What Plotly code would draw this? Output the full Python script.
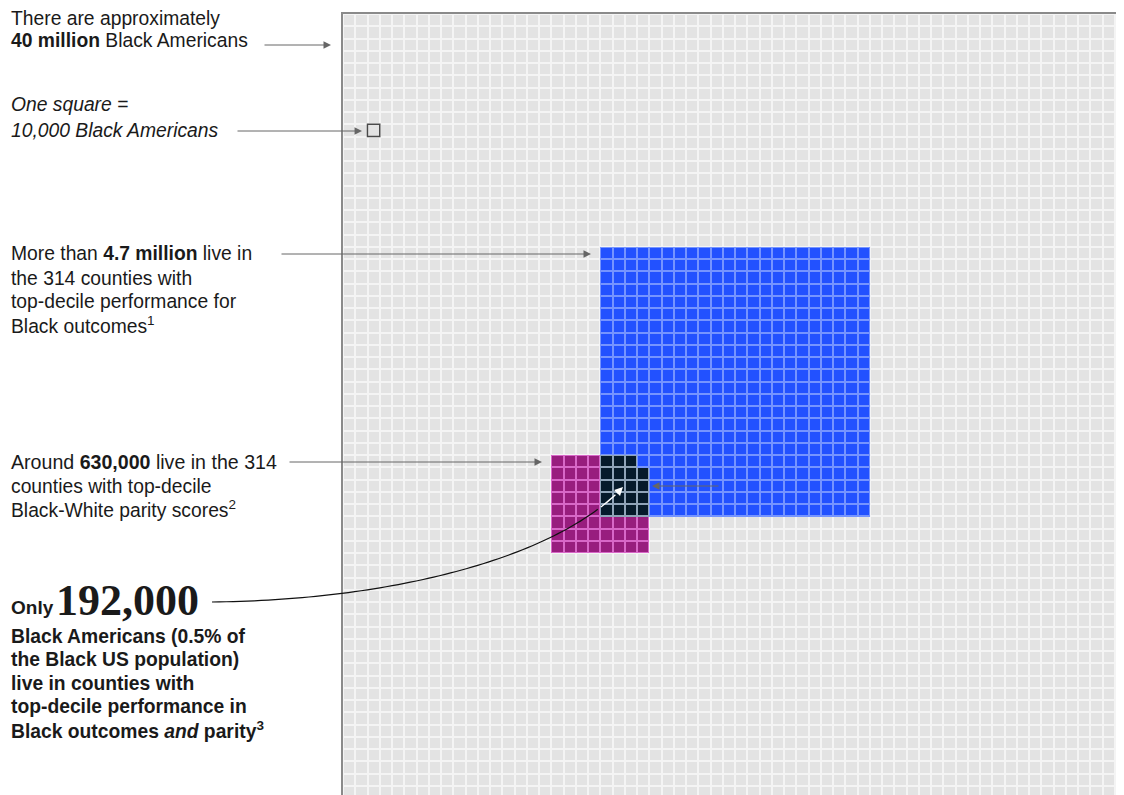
import math
import numpy as np
import plotly.graph_objects as go

# ---------------- data ----------------
TOTAL_POP = 40_000_000          # Black Americans
PER_SQUARE = 10_000             # one square
OUTCOMES_POP = 4_700_000        # top-decile Black outcomes counties
PARITY_POP = 630_000            # top-decile Black-White parity counties
BOTH_POP = 192_000              # both
GRID_COLS = 66
GRID_ROWS = 66
CATEGORIES = ["all", "outcomes", "parity", "both"]

# ---------------- layout constants ----------------
SCREEN_W, SCREEN_H = 1124, 795
PAGE_OFF = 8                     # default body margin of the html page
W, H = SCREEN_W - 2 * PAGE_OFF, SCREEN_H - PAGE_OFF
GRID_LEFT, GRID_TOP = 343, 14    # screen pixels
PITCH = 12.25
BLUE_ORIGIN = (21, 19)      # (col, row) of top-left cell
MAGENTA_ORIGIN = (17, 36)

CELL_COLORS = ["#e3e3e3", "#2251ff", "#981d7e", "#061a2b"]
GAP_COLORS = ["#f4f4f4", "#7594ff", "#d867c8", "#8fa3b8"]
TEXT = "#1a1a1a"
ARROW = "#666666"

n_blue = round(OUTCOMES_POP / PER_SQUARE)
n_mag = round(PARITY_POP / PER_SQUARE)
n_both = round(BOTH_POP / PER_SQUARE)
side_blue = math.ceil(math.sqrt(n_blue))
side_mag = math.ceil(math.sqrt(n_mag))

z = np.zeros((GRID_ROWS, GRID_COLS))
bc, br = BLUE_ORIGIN
mc, mr = MAGENTA_ORIGIN
z[mr:mr + side_mag, mc:mc + side_mag] = 2
z[br:br + side_blue, bc:bc + side_blue] = 1
# overlap block
c0, c1 = max(bc, mc), min(bc + side_blue, mc + side_mag)
r0, r1 = max(br, mr), min(br + side_blue, mr + side_mag)
ov_w = c1 - c0
rows_needed = math.ceil(n_both / ov_w)
count = 0
for r in range(r0 + rows_needed - 1, r0 - 1, -1):
    for c in range(c0, c1):
        if count < n_both:
            z[r, c] = 3
            count += 1


def scale(colors):
    n = len(colors) - 1
    return [[i / n, col] for i, col in enumerate(colors)]


fig = go.Figure()
fig.add_trace(go.Heatmap(z=z, colorscale=scale(GAP_COLORS), zmin=0, zmax=3,
                         showscale=False, hoverinfo="skip"))
fig.add_trace(go.Heatmap(z=z, colorscale=scale(CELL_COLORS), zmin=0, zmax=3,
                         showscale=False, xgap=2, ygap=2, hoverinfo="skip"))

span = (PAGE_OFF + W - GRID_LEFT) / PITCH
span_y = (PAGE_OFF + H - GRID_TOP) / PITCH


def px(x):
    return (x - PAGE_OFF) / W


def py(y):
    return 1 - (y - PAGE_OFF) / H


annotations = []


def text(t, x, y, size=19.3, family="Liberation Sans", color=TEXT):
    annotations.append(dict(text=t, x=px(x), y=py(y), xref="paper", yref="paper",
                            xanchor="left", yanchor="middle", showarrow=False,
                            borderpad=0, font=dict(size=size, family=family, color=color)))


def arrow(x_tail, y_tail, x_head, y_head, color=ARROW, width=1):
    annotations.append(dict(text="", x=px(x_head), y=py(y_head), xref="paper", yref="paper",
                            ax=x_tail - x_head, ay=y_tail - y_head, showarrow=True,
                            arrowhead=2, arrowsize=1.5, arrowwidth=width, arrowcolor=color,
                            standoff=0))


text("There are approximately", 10, 18)
text("<b>40 million</b> Black Americans", 10, 41)
text("<i>One square =</i>", 10, 105)
text("<i>10,000 Black Americans</i>", 10, 131)
text("More than <b>4.7 million</b> live in", 10, 254)
text("the 314 counties with", 10, 278)
text("top-decile performance for", 10, 301)
text("Black outcomes<sup>1</sup>", 10, 325)
text("Around <b>630,000</b> live in the 314", 10, 462, size=19.6)
text("counties with top-decile", 10, 486)
text("Black-White parity scores<sup>2</sup>", 10, 509)
text("<b>Only</b>", 10, 607, size=19)
text("<b>192,000</b>", 55, 600, size=44, family="Liberation Serif")
for i, line in enumerate(["Black Americans (0.5% of", "the Black US population)",
                          "live in counties with", "top-decile performance in",
                          "Black outcomes <i>and</i> parity<sup>3</sup>"]):
    text(f"<b>{line}</b>", 10, 636 + i * 23.5, size=19.3)

arrow(263, 45, 331, 45)
arrow(236, 131, 362, 131)
arrow(280, 254, 591, 254)
arrow(288, 462, 542, 462)
arrow(720, 486, 652, 486)

# curved connector
P0, C1, C2, P3 = (212, 602), (400, 600), (560, 555), (623, 487)
ts = np.linspace(0, 1, 80)
bx = (1 - ts) ** 3 * P0[0] + 3 * (1 - ts) ** 2 * ts * C1[0] + 3 * (1 - ts) * ts ** 2 * C2[0] + ts ** 3 * P3[0]
by = (1 - ts) ** 3 * P0[1] + 3 * (1 - ts) ** 2 * ts * C1[1] + 3 * (1 - ts) * ts ** 2 * C2[1] + ts ** 3 * P3[1]
split_x = GRID_LEFT + c0 * PITCH
black = [(x, y) for x, y in zip(bx, by) if x <= split_x + 0.5]
white = [(x, y) for x, y in zip(bx, by) if x >= split_x - 0.5]


def path(pts):
    return "M " + " L ".join(f"{px(x):.5f},{py(y):.5f}" for x, y in pts)


shapes = [
    dict(type="path", path=path(black), xref="paper", yref="paper",
         line=dict(color="#111111", width=1.2), layer="above"),
    dict(type="path", path=path(white[:-3]), xref="paper", yref="paper",
         line=dict(color="white", width=1.4), layer="above"),
    dict(type="rect", xref="x", yref="y", x0=1.5, x1=2.5, y0=8.5, y1=9.5,
         line=dict(color="#4a4a4a", width=1.5), layer="above"),
]
wx0, wy0 = white[-4]
annotations.append(dict(text="", x=px(P3[0]), y=py(P3[1]), xref="paper", yref="paper",
                        ax=wx0 - P3[0], ay=wy0 - P3[1], showarrow=True, arrowhead=2,
                        arrowsize=1.2, arrowwidth=1.4, arrowcolor="white", standoff=0))

fig.update_layout(
    width=W, height=H, margin=dict(l=0, r=0, t=0, b=0),
    paper_bgcolor="white", plot_bgcolor="rgba(0,0,0,0)",
    showlegend=False, annotations=annotations, shapes=shapes,
    xaxis=dict(domain=[(GRID_LEFT - PAGE_OFF) / W, 1], range=[-0.5, -0.5 + span], side="top",
               showline=True, linecolor="#8a8a8a", linewidth=1.5, mirror=False,
               showgrid=False, zeroline=False, showticklabels=False, ticks=""),
    yaxis=dict(domain=[0, 1 - (GRID_TOP - PAGE_OFF) / H], range=[-0.5 + span_y, -0.5],
               showline=True, linecolor="#8a8a8a", linewidth=1.5,
               showgrid=False, zeroline=False, showticklabels=False, ticks=""),
)

fig.write_html("out.html")
